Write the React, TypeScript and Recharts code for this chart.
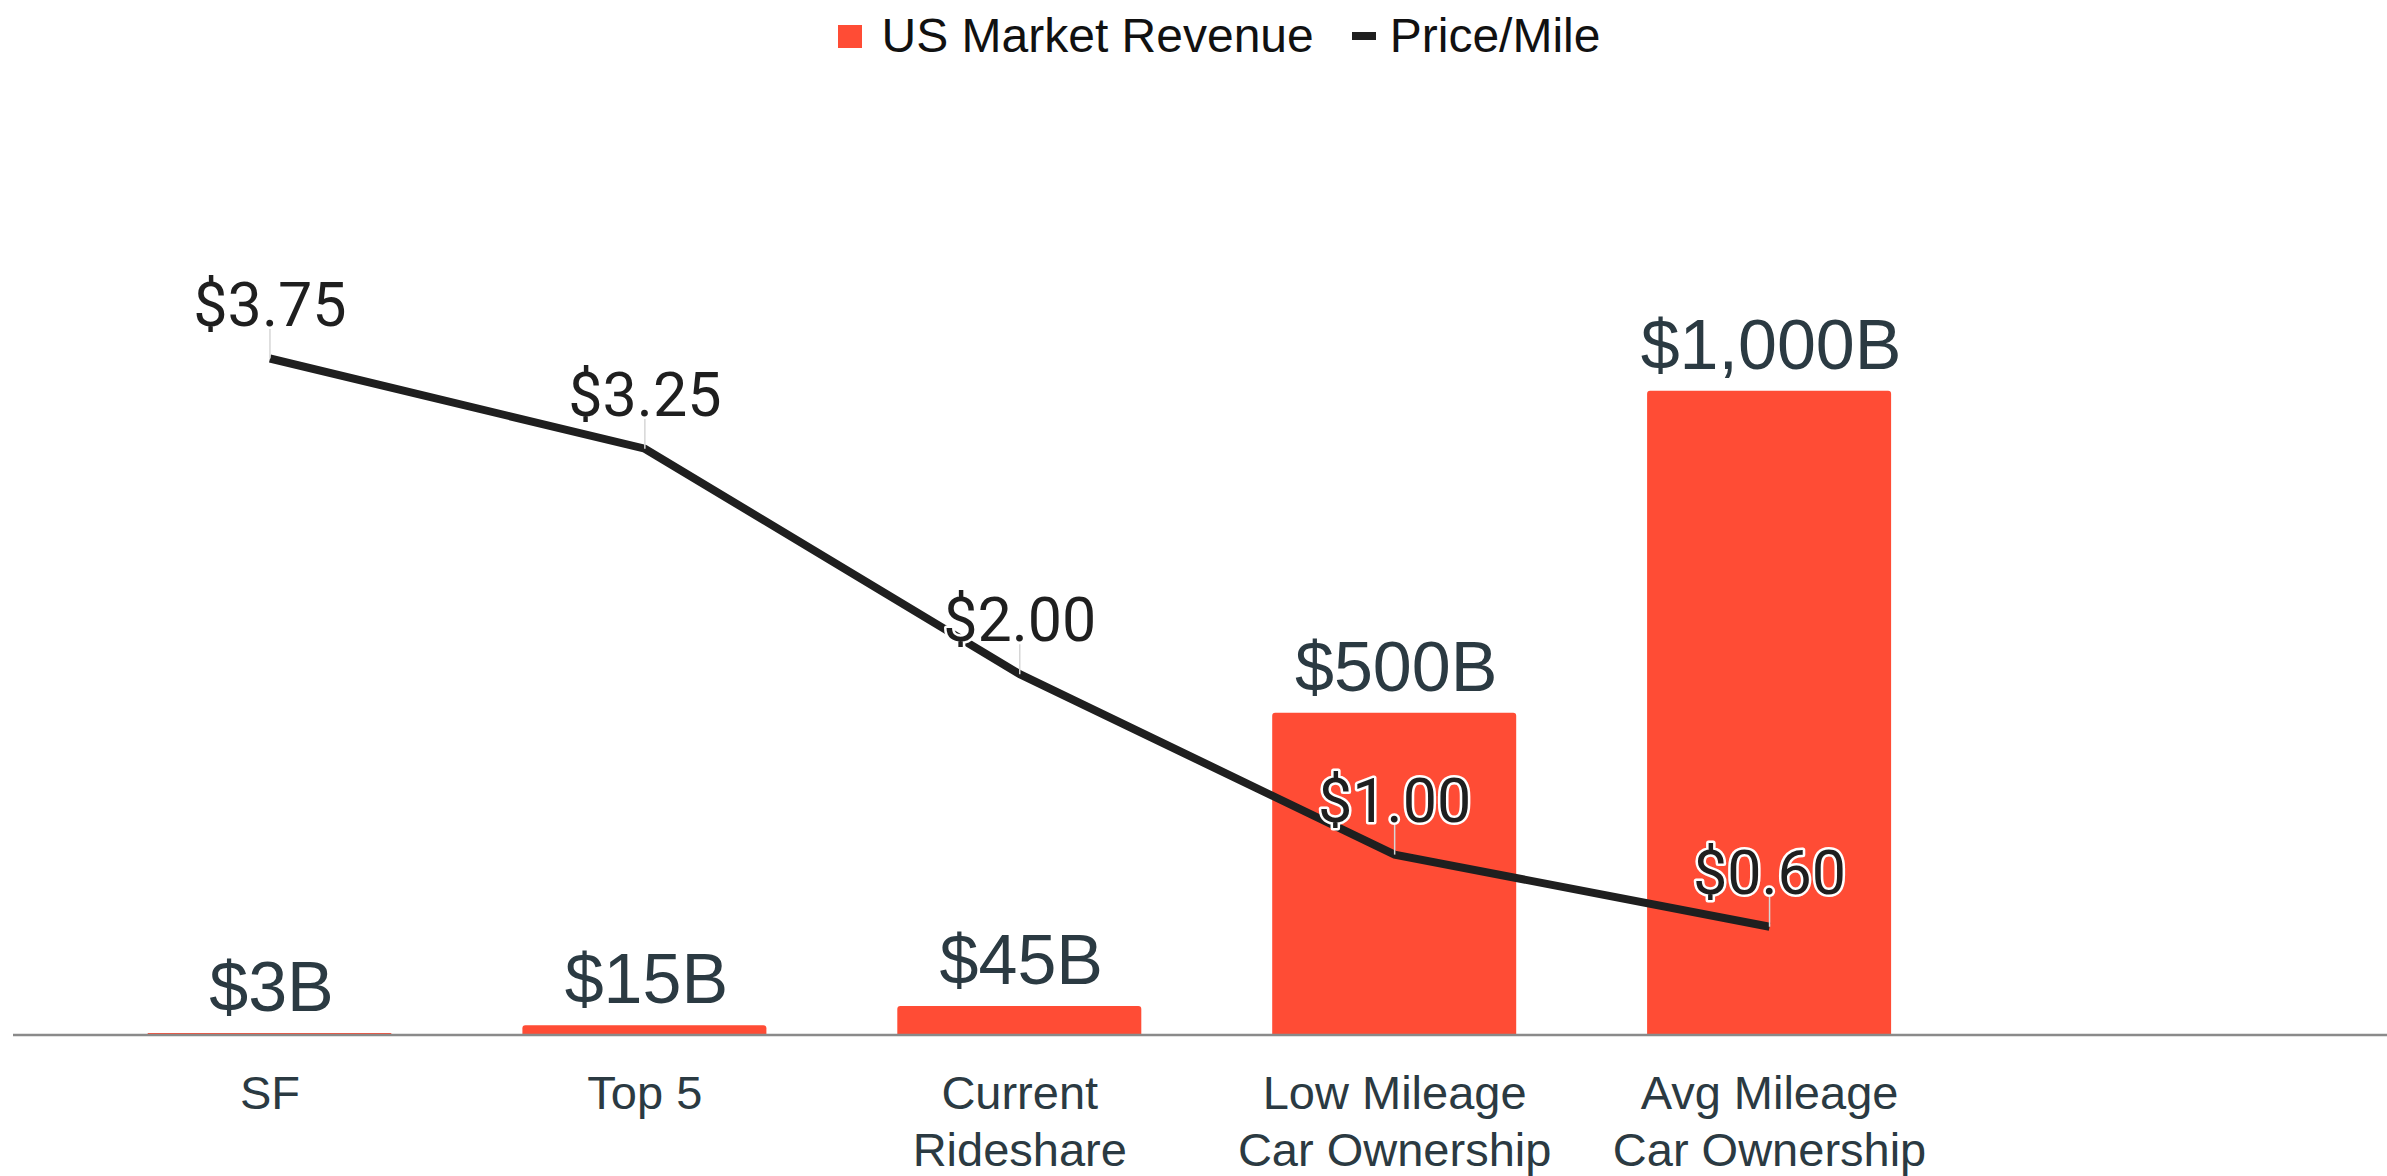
import React from 'react';
import { ComposedChart, Bar, Line, XAxis, YAxis, Legend, LabelList } from 'recharts';

const categories = ['SF', 'Top 5', 'Current\nRideshare', 'Low Mileage\nCar Ownership', 'Avg Mileage\nCar Ownership'];
const revenue = [3, 15, 45, 500, 1000];
const pricePerMile = [3.75, 3.25, 2.0, 1.0, 0.6];
const revenueDomain = [0, 1400];
const priceDomain = [0, 5];

const data = categories.map((name, i) => ({ name, revenue: revenue[i], price: pricePerMile[i] }));

const BAR_COLOR = '#FF4C35';
const LINE_COLOR = '#1f1f1f';
const SLATE = '#2B3A42';
const SANS = '"Liberation Sans", Arial, Helvetica, sans-serif';

const CategoryTick = (props: any) => {
  const { x, y, payload } = props;
  const lines = String(payload.value).split('\n');
  return (
    <text x={x} y={y} textAnchor="middle" fill={SLATE} fontFamily={SANS} fontSize={47}>
      {lines.map((l, i) => (
        <tspan key={i} x={x} dy={i === 0 ? 74 : 57}>{l}</tspan>
      ))}
    </text>
  );
};

const BarValueLabel = (props: any) => {
  const { x, y, width, value } = props;
  return (
    <text x={x + width / 2 + 2} y={y - 22} textAnchor="middle" fill={SLATE} fontFamily={SANS} fontSize={70}>
      {`$${Number(value).toLocaleString('en-US')}B`}
    </text>
  );
};

const PriceLabel = (props: any) => {
  const { x, y, value } = props;
  return (
    <g>
      <line x1={x} x2={x} y1={y - 30} y2={y} stroke="#d6d6d6" strokeWidth={1.5} />
      <text
        x={x}
        y={y - 33}
        textAnchor="middle"
        fontFamily="Roboto, sans-serif"
        fontSize={61}
        fill={LINE_COLOR}
        stroke="#ffffff"
        strokeWidth={5}
        strokeLinejoin="round"
        paintOrder="stroke"
      >
        {`$${Number(value).toFixed(2)}`}
      </text>
    </g>
  );
};

const renderLegend = () => (
  <div
    style={{
      display: 'flex',
      justifyContent: 'center',
      alignItems: 'center',
      fontFamily: SANS,
      fontSize: 48,
      lineHeight: '56px',
      color: '#111',
      paddingLeft: 51,
    }}
  >
    <span style={{ display: 'inline-block', width: 24, height: 23, background: BAR_COLOR, marginRight: 20 }} />
    <span>US Market Revenue</span>
    <span style={{ display: 'inline-block', width: 24, height: 8, background: LINE_COLOR, marginLeft: 38, marginRight: 14 }} />
    <span>Price/Mile</span>
  </div>
);

export default function App() {
  return (
    <div style={{ position: 'absolute', left: 0, top: 0, width: 2387, height: 1176, background: '#fff' }}>
      <ComposedChart width={2387} height={1176} data={data} margin={{ top: 133, right: 0, left: 13, bottom: 0 }}>
        <XAxis
          dataKey="name"
          height={141}
          interval={0}
          tickLine={false}
          tickSize={0}
          tickMargin={0}
          axisLine={{ stroke: '#8a8a8a', strokeWidth: 2.5 }}
          tick={<CategoryTick />}
          padding={{ left: 69.5, right: 430 }}
        />
        <YAxis yAxisId="rev" domain={revenueDomain} hide />
        <YAxis yAxisId="price" orientation="right" domain={priceDomain} hide />
        <Legend
          layout="horizontal"
          verticalAlign="middle"
          align="center"
          content={renderLegend}
          wrapperStyle={{ top: 8, left: 0, width: 2387, height: 56 }}
        />
        <Bar yAxisId="rev" dataKey="revenue" name="US Market Revenue" fill={BAR_COLOR} barSize={244} radius={[3, 3, 0, 0]} isAnimationActive={false}>
          <LabelList dataKey="revenue" content={<BarValueLabel />} />
        </Bar>
        <Line
          yAxisId="price"
          type="linear"
          dataKey="price"
          name="Price/Mile"
          stroke={LINE_COLOR}
          strokeWidth={8}
          dot={false}
          activeDot={false}
          isAnimationActive={false}
        >
          <LabelList dataKey="price" content={<PriceLabel />} />
        </Line>
      </ComposedChart>
    </div>
  );
}
